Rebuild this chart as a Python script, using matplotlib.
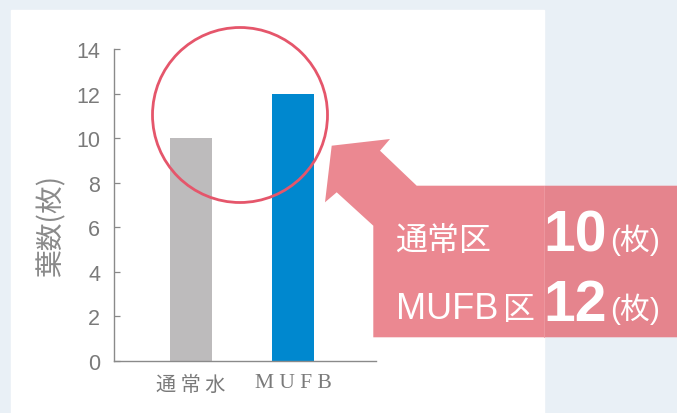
import matplotlib
matplotlib.use("Agg")
import matplotlib.pyplot as plt
from matplotlib.patches import Rectangle, Circle, Polygon

# data
categories = ["通 常 水", "M U F B"]
leaf_counts = [10, 12]
bar_colors = ["#bdbbbc", "#0088cf"]
yticks = [0, 2, 4, 6, 8, 10, 12, 14]
ylabel = "葉数(枚)"
callout_labels = ["通常", "MUFB"]
callout_values = ["10", "12"]
plot_suffix = "区"
unit = "(枚)"

W, H = 677, 414
fig = plt.figure(figsize=(W / 100, H / 100), dpi=100)
fig.patch.set_facecolor("#e9f0f6")

def px(x0, y0, x1, y1):
    # pixel box (top-left origin) -> figure fraction rect
    return [x0 / W, 1 - y1 / H, (x1 - x0) / W, (y1 - y0) / H]

# background layer with white panel
bg = fig.add_axes([0, 0, 1, 1], zorder=0)
bg.set_xlim(0, W)
bg.set_ylim(H, 0)
bg.axis("off")
bg.add_patch(Rectangle((11, 11), 544 - 11, H - 11, color="white"))

# chart
ax = fig.add_axes(px(114, 50, 376, 362), zorder=1)
ax.patch.set_alpha(0)
x = [0, 1]
ax.bar(x, leaf_counts, width=0.41, color=bar_colors)
ax.set_xlim(-0.755, 1.81)
ax.set_ylim(0, 14)
ax.set_yticks(yticks)
ax.set_yticklabels([str(v) for v in yticks], family=["Liberation Sans Narrow", "Liberation Sans"],
                   fontsize=15.5, color="#7a7a7a")
ax.set_xticks(x)
ax.set_xticklabels(categories, fontsize=14.5, color="#7a7a7a")
ax.get_xticklabels()[0].set_family(["Noto Sans CJK JP"])
ax.get_xticklabels()[1].set_family(["Liberation Serif"])
ax.get_xticklabels()[1].set_fontsize(15.5)
ax.tick_params(axis="y", direction="in", length=4.5, width=0.9, color="#888888", pad=10)
ax.tick_params(axis="x", length=0, pad=9)
for s in ["top", "right"]:
    ax.spines[s].set_visible(False)
for s in ["left", "bottom"]:
    ax.spines[s].set_color("#8a8a8a")
    ax.spines[s].set_linewidth(1.0)

# overlay: circle, arrow callout, texts
ov = fig.add_axes([0, 0, 1, 1], zorder=2)
ov.set_xlim(0, W)
ov.set_ylim(H, 0)
ov.axis("off")
ov.patch.set_alpha(0)

ov.text(52, 226, ylabel, rotation=90, ha="center", va="center", fontsize=20,
        color="#8a8a8a", family=["Noto Sans CJK JP"])

ov.add_patch(Circle((240, 116), 87.5, fill=False, ec="#e5566b", lw=2))

arrow = [(331.7, 146.7), (390, 140), (380, 151.7), (416.7, 186.7), (677, 186.7),
         (677, 338.3), (373.3, 338.3), (373.3, 226.7), (336.7, 193.3), (325, 203.3)]
ov.add_patch(Polygon(arrow, closed=True, color="#eb8891", lw=0))
ov.add_patch(Rectangle((544, 186.7), W - 544, 338.3 - 186.7, color="#e5848d", lw=0))
ov.plot([544, 544], [186.7, 338.3], color="#ef9aa2", lw=0.6)

fam = ["Liberation Sans", "Noto Sans CJK JP"]
# row 1: 通常区
ov.text(395, 250, callout_labels[0] + plot_suffix, ha="left", va="baseline", fontsize=23,
        color="white", family=fam)
# row 2: MUFB区 (latin set a bit larger, as in the original artwork)
ov.text(396, 319, callout_labels[1], ha="left", va="baseline", fontsize=26,
        color="white", family=fam)
ov.text(503, 319, plot_suffix, ha="left", va="baseline", fontsize=23,
        color="white", family=fam)
for val, yb in zip(callout_values, [250, 319]):
    ov.text(543, yb + 2, val, ha="left", va="baseline", fontsize=41, fontweight="bold",
            color="white", family=fam)
    ov.text(610, yb, unit, ha="left", va="baseline", fontsize=21.5, color="white", family=fam)

fig.savefig("out.png", dpi=100, facecolor=fig.get_facecolor())
